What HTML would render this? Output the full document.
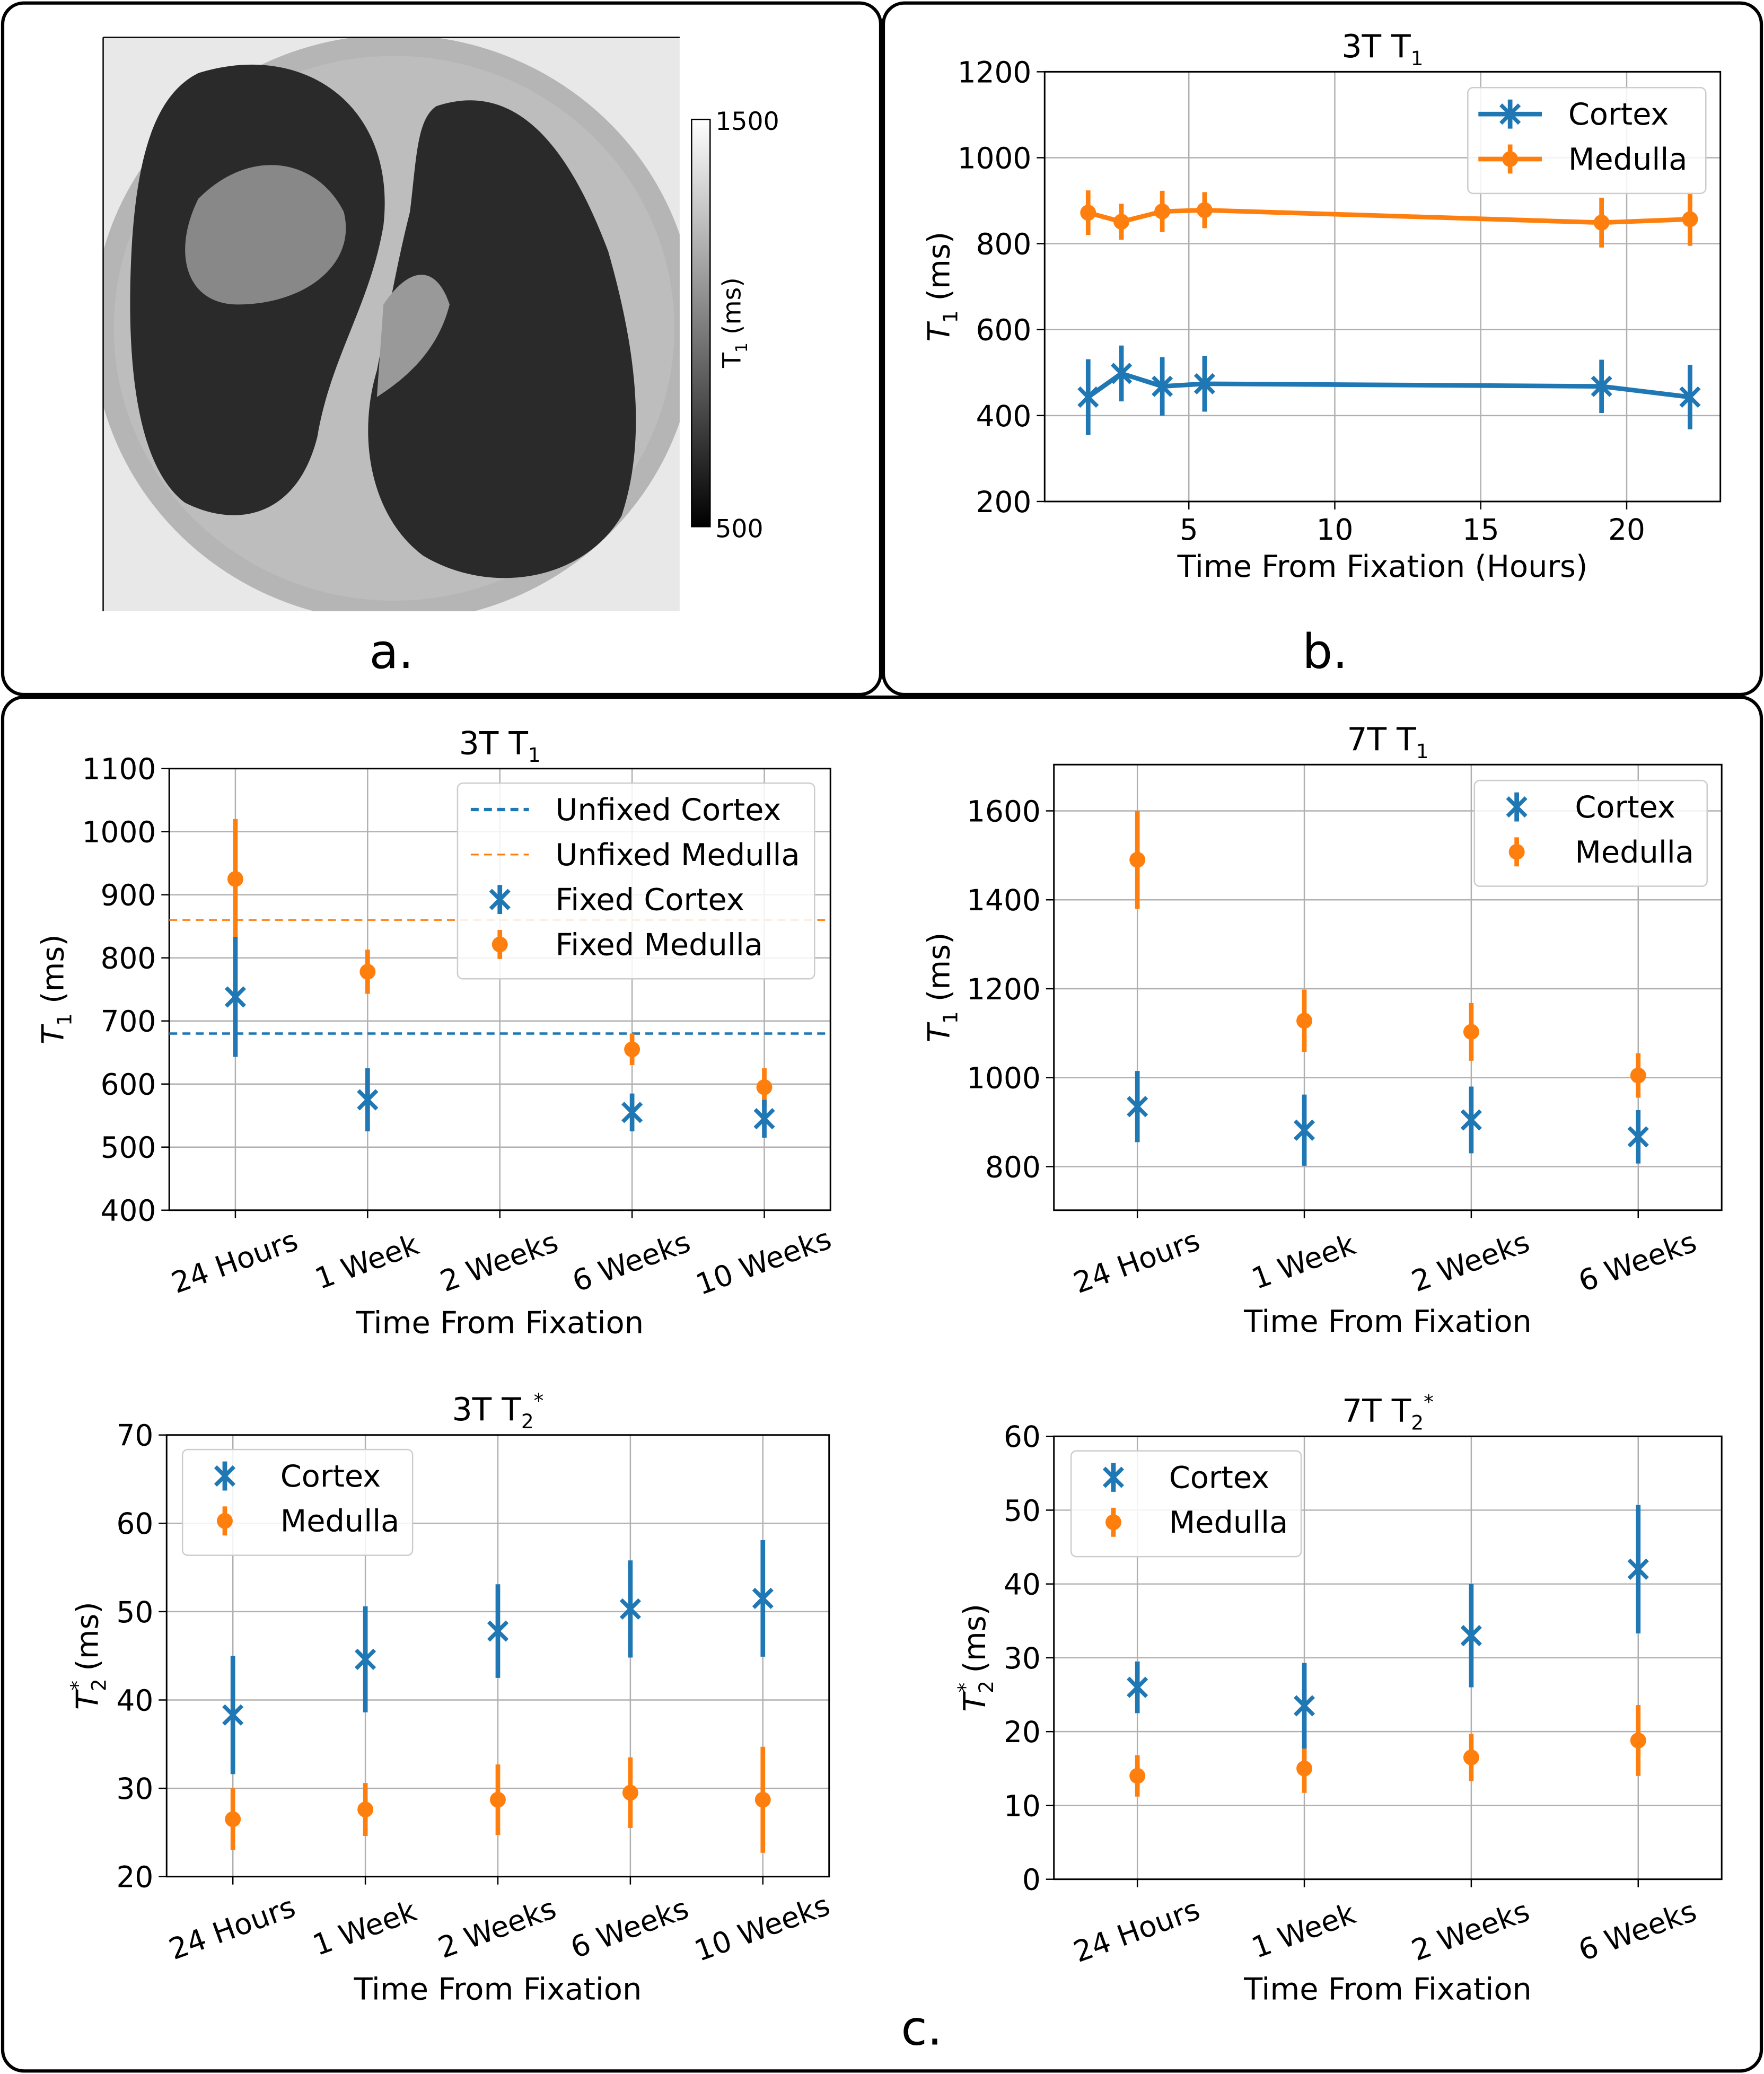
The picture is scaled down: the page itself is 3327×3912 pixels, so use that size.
<!DOCTYPE html>
<html><head><meta charset="utf-8"><style>
html,body{margin:0;padding:0;background:#fff}
svg{display:block}
text{font-family:"DejaVu Sans","Liberation Sans",sans-serif;fill:#000}
</style></head><body>
<svg id="fig" width="3327" height="3912" viewBox="0 0 1334 1568" xmlns="http://www.w3.org/2000/svg">
<defs>
<linearGradient id="cb" x1="0" y1="1" x2="0" y2="0"><stop offset="0" stop-color="#000"/><stop offset="1" stop-color="#fff"/></linearGradient>
<clipPath id="imgclip"><rect x="78" y="28" width="436" height="434"/></clipPath>
</defs>
<rect x="2" y="2" width="664" height="523" rx="16" fill="#fff" stroke="#000" stroke-width="2.5"/>
<rect x="668" y="2" width="664" height="523" rx="16" fill="#fff" stroke="#000" stroke-width="2.5"/>
<rect x="2" y="527" width="1330" height="1039" rx="16" fill="#fff" stroke="#000" stroke-width="2.5"/>
<g clip-path="url(#imgclip)">
<rect x="78" y="28" width="436" height="434" fill="#e8e8e8"/>
<ellipse cx="298" cy="248" rx="228" ry="222" fill="#b5b5b5"/>
<ellipse cx="298" cy="248" rx="212" ry="206" fill="#bdbdbd"/>
<path d="M150,55 C230,30 300,80 290,170 C280,230 250,270 240,330 C225,390 180,400 140,380 C100,350 95,260 100,180 C105,110 120,70 150,55Z" fill="#2a2a2a"/>
<path d="M150,150 C190,110 240,120 260,160 C270,200 230,230 180,230 C140,230 130,190 150,150Z" fill="#888"/>
<path d="M330,80 C390,60 430,110 460,190 C480,260 490,330 470,390 C440,440 370,450 320,420 C280,390 270,330 285,280 C295,230 300,200 310,160 C315,120 315,90 330,80Z" fill="#2a2a2a"/>
<path d="M290,230 C310,200 330,200 340,230 C330,270 300,290 285,300Z" fill="#999"/>
</g>
<line x1="78" y1="28" x2="78" y2="462" stroke="#000" stroke-width="1"/>
<line x1="78" y1="28" x2="514" y2="28" stroke="#000" stroke-width="1"/>
<rect x="523" y="90" width="14" height="308" fill="url(#cb)" stroke="#000" stroke-width="1"/>
<text x="541" y="98" font-size="19">1500</text>
<text x="541" y="406" font-size="19">500</text>
<text transform="translate(560,278) rotate(-90)" font-size="19">T<tspan font-size="12" dy="5">1</tspan><tspan dy="-5"> (ms)</tspan></text>
<text x="296" y="505" font-size="36" text-anchor="middle">a.</text>
<text x="1002" y="505" font-size="36" text-anchor="middle">b.</text>
<text x="697" y="1546" font-size="36" text-anchor="middle">c.</text>
<g id="charts"></g>
</svg>
<script>
// Panel b data
const bHours = [1.55, 2.69, 4.09, 5.54, 19.14, 22.17];
const bCortex = [443, 498, 468, 474, 468, 443];
const bCortexErr = [88, 65, 68, 65, 62, 75];
const bMedulla = [872, 851, 875, 878, 849, 857];
const bMedullaErr = [52, 42, 48, 42, 58, 62];
const bXTicks = [5, 10, 15, 20];
const bYTicks = [200, 400, 600, 800, 1000, 1200];
// Panel c 3T T1
const c1Cats = ['24 Hours', '1 Week', '2 Weeks', '6 Weeks', '10 Weeks'];
const c1Cortex = [738, 575, null, 555, 545];
const c1CortexErr = [95, 50, 0, 30, 30];
const c1Medulla = [925, 778, null, 655, 595];
const c1MedullaErr = [95, 35, 0, 25, 30];
const c1UnfixedCortex = 680;
const c1UnfixedMedulla = 860;
const c1YTicks = [400, 500, 600, 700, 800, 900, 1000, 1100];
// Panel c 7T T1
const c2Cats = ['24 Hours', '1 Week', '2 Weeks', '6 Weeks'];
const c2Cortex = [935, 882, 905, 867];
const c2CortexErr = [80, 80, 75, 60];
const c2Medulla = [1490, 1128, 1103, 1005];
const c2MedullaErr = [110, 70, 65, 50];
const c2YTicks = [800, 1000, 1200, 1400, 1600];
// Panel c 3T T2*
const c3Cats = ['24 Hours', '1 Week', '2 Weeks', '6 Weeks', '10 Weeks'];
const c3Cortex = [38.3, 44.6, 47.8, 50.3, 51.5];
const c3CortexErr = [6.7, 6, 5.3, 5.5, 6.6];
const c3Medulla = [26.5, 27.6, 28.7, 29.5, 28.7];
const c3MedullaErr = [3.5, 3, 4, 4, 6];
const c3YTicks = [20, 30, 40, 50, 60, 70];
// Panel c 7T T2*
const c4Cats = ['24 Hours', '1 Week', '2 Weeks', '6 Weeks'];
const c4Cortex = [26, 23.5, 33, 42];
const c4CortexErr = [3.5, 5.8, 7, 8.7];
const c4Medulla = [14, 15, 16.5, 18.8];
const c4MedullaErr = [2.8, 3.3, 3.2, 4.8];
const c4YTicks = [0, 10, 20, 30, 40, 50, 60];

const NS = 'http://www.w3.org/2000/svg';
const root = document.getElementById('charts');
const BLUE = '#1f77b4', ORANGE = '#ff7f0e';
function mk(tag, attrs, parent) {
  const e = document.createElementNS(NS, tag);
  for (const k in attrs) e.setAttribute(k, attrs[k]);
  (parent || root).appendChild(e);
  return e;
}
function txt(s, attrs, parent) { const t = mk('text', attrs, parent); t.innerHTML = s; return t; }

function xMarker(g, x, y, color) {
  const p = mk('path', {d:`M${x-7},${y-7}L${x+7},${y+7}M${x-7},${y+7}L${x+7},${y-7}`, stroke:color, 'stroke-width':3, fill:'none'}, g);
  
  
}
function oMarker(g, x, y, color) {
  const c = mk('circle', {cx:x, cy:y, r:6, fill:color}, g);
  
  
}
function errBar(g, x, y1, y2, color, name) {
  const l = mk('line', {x1:x, x2:x, y1:y1, y2:y2, stroke:color, 'stroke-width':3.5}, g);
  
  
}

function axes(c) {
  const g = mk('g', {});
  
  
  c.g = g;
  const ys = v => c.y1 - (v - c.ymin) / (c.ymax - c.ymin) * (c.y1 - c.y0);
  c.ys = ys;
  c.yTicks.forEach(v => {
    const y = ys(v);
    mk('line', {x1:c.x0, x2:c.x1, y1:y, y2:y, stroke:'#b0b0b0', 'stroke-width':1}, g);
    mk('line', {x1:c.x0-6, x2:c.x0, y1:y, y2:y, stroke:'#000', 'stroke-width':1}, g);
    const t = txt(String(v), {x:c.x0-10, y:y+8, 'font-size':22, 'text-anchor':'end'}, g);
    
    
  });
  c.xTickPos.forEach((x, i) => {
    mk('line', {x1:x, x2:x, y1:c.y0, y2:c.y1, stroke:'#b0b0b0', 'stroke-width':1}, g);
    mk('line', {x1:x, x2:x, y1:c.y1, y2:c.y1+6, stroke:'#000', 'stroke-width':1}, g);
    let t;
    if (c.rot) t = txt(c.xTickLabels[i], {transform:`translate(${x+2},${c.y1+46}) rotate(-20)`, 'font-size':22, 'text-anchor':'middle'}, g);
    else t = txt(c.xTickLabels[i], {x:x, y:c.y1+29, 'font-size':22, 'text-anchor':'middle'}, g);
    
    
  });
  const fr = mk('rect', {x:c.x0, y:c.y0, width:c.x1-c.x0, height:c.y1-c.y0, fill:'none', stroke:'#000', 'stroke-width':1.2}, g);
  
  
  const ti = txt(c.title, {x:(c.x0+c.x1)/2, y:c.y0-11, 'font-size':24, 'text-anchor':'middle'}, g);
  
  
  const xl = txt(c.xlabel, {x:(c.x0+c.x1)/2, y:c.xlabelY, 'font-size':23, 'text-anchor':'middle'}, g);
  
  
  const yl = txt(c.ylabel, {transform:`translate(${c.ylabelX},${(c.y0+c.y1)/2}) rotate(-90)`, 'font-size':23, 'text-anchor':'middle'}, g);
  
  
  return g;
}

function legend(g, x, y, w, entries) {
  const lg = mk('g', {}, g);
  
  
  mk('rect', {x:x, y:y, width:w, height:entries.length*34+12, rx:4, fill:'#fff', 'fill-opacity':0.85, stroke:'#ccc'}, lg);
  entries.forEach((e, i) => {
    const cy = y + 20 + i*34;
    const ex = x + 32;
    const eg = mk('g', {}, lg);
    
    
    if (e.type === 'dash') mk('line', {x1:ex-22, x2:ex+22, y1:cy, y2:cy, stroke:e.color, 'stroke-width':e.w||2, 'stroke-dasharray':'6,4'}, eg);
    if (e.type === 'lineX' || e.type === 'lineO') mk('line', {x1:ex-24, x2:ex+24, y1:cy, y2:cy, stroke:e.color, 'stroke-width':3.5}, eg);
    if (e.type === 'lineX' || e.type === 'x' || e.type === 'lineO' || e.type === 'o') errBar(eg, ex, cy-11, cy+11, e.color, 'legend-errorbar');
    if (e.type === 'lineX' || e.type === 'x') xMarker(eg, ex, cy, e.color);
    if (e.type === 'lineO' || e.type === 'o') oMarker(eg, ex, cy, e.color);
    const t = txt(e.label, {x:x+e.tx, y:cy+8, 'font-size':23}, eg);
    
    
  });
}

function catChart(c, cats, cort, cortE, med, medE) {
  const n = cats.length;
  const xs = i => c.x0 + (i + 0.5) / n * (c.x1 - c.x0);
  c.xTickPos = cats.map((_, i) => xs(i));
  c.xTickLabels = cats;
  c.rot = true;
  const g = axes(c);
  if (c.unfixed) {
    const y1 = c.ys(c.unfixed[0]), y2 = c.ys(c.unfixed[1]);
    const l1 = mk('line', {x1:c.x0, x2:c.x1, y1:y1, y2:y1, stroke:BLUE, 'stroke-width':1.8, 'stroke-dasharray':'6,4'}, g);
    
    
    const l2 = mk('line', {x1:c.x0, x2:c.x1, y1:y2, y2:y2, stroke:ORANGE, 'stroke-width':1.2, 'stroke-dasharray':'6,4'}, g);
    
    
  }
  med.forEach((v, i) => {
    if (v == null) return;
    errBar(g, xs(i), c.ys(v - medE[i]), c.ys(v + medE[i]), ORANGE, 'medulla-errorbar');
    oMarker(g, xs(i), c.ys(v), ORANGE);
  });
  cort.forEach((v, i) => {
    if (v == null) return;
    errBar(g, xs(i), c.ys(v - cortE[i]), c.ys(v + cortE[i]), BLUE, 'cortex-errorbar');
    xMarker(g, xs(i), c.ys(v), BLUE);
  });
  return g;
}

// Panel b
(function(){
  const c = {name:'chart-3t-t1-hours', x0:790, x1:1301, y0:54, y1:379, ymin:200, ymax:1200, yTicks:bYTicks,
    title:'3T T<tspan font-size="15" dy="6">1</tspan>', xlabel:'Time From Fixation (Hours)', xlabelY:436,
    ylabel:'<tspan font-style="italic">T</tspan><tspan font-size="15" dy="6">1</tspan><tspan dy="-6"> (ms)</tspan>', ylabelX:718};
  const xmin = 0.06, xmax = 23.21;
  const xs = v => c.x0 + (v - xmin) / (xmax - xmin) * (c.x1 - c.x0);
  c.xTickPos = bXTicks.map(xs);
  c.xTickLabels = bXTicks.map(String);
  const g = axes(c);
  [[bMedulla, bMedullaErr, ORANGE, 'medulla'], [bCortex, bCortexErr, BLUE, 'cortex']].forEach(([d, e, col, nm]) => {
    const pl = mk('polyline', {points:d.map((v, i) => xs(bHours[i]) + ',' + c.ys(v)).join(' '), fill:'none', stroke:col, 'stroke-width':3.5}, g);
    
    
    d.forEach((v, i) => {
      errBar(g, xs(bHours[i]), c.ys(v - e[i]), c.ys(v + e[i]), col, nm + '-errorbar');
      if (nm === 'cortex') xMarker(g, xs(bHours[i]), c.ys(v), col); else oMarker(g, xs(bHours[i]), c.ys(v), col);
    });
  });
  legend(g, 1110, 66, 180, [{type:'lineX', color:BLUE, label:'Cortex', tx:76}, {type:'lineO', color:ORANGE, label:'Medulla', tx:76}]);
})();

(function(){
  const c = {name:'chart-3t-t1', x0:128, x1:628, y0:581, y1:915, ymin:400, ymax:1100, yTicks:c1YTicks,
    title:'3T T<tspan font-size="15" dy="6">1</tspan>', xlabel:'Time From Fixation', xlabelY:1008,
    ylabel:'<tspan font-style="italic">T</tspan><tspan font-size="15" dy="6">1</tspan><tspan dy="-6"> (ms)</tspan>', ylabelX:48,
    unfixed:[c1UnfixedCortex, c1UnfixedMedulla]};
  const g = catChart(c, c1Cats, c1Cortex, c1CortexErr, c1Medulla, c1MedullaErr);
  legend(g, 346, 592, 270, [{type:'dash', color:BLUE, label:'Unfixed Cortex', tx:74, w:2.5}, {type:'dash', color:ORANGE, label:'Unfixed Medulla', tx:74, w:1.3},
    {type:'x', color:BLUE, label:'Fixed Cortex', tx:74}, {type:'o', color:ORANGE, label:'Fixed Medulla', tx:74}]);
})();

(function(){
  const c = {name:'chart-7t-t1', x0:797, x1:1302, y0:578, y1:915, ymin:702, ymax:1704, yTicks:c2YTicks,
    title:'7T T<tspan font-size="15" dy="6">1</tspan>', xlabel:'Time From Fixation', xlabelY:1007,
    ylabel:'<tspan font-style="italic">T</tspan><tspan font-size="15" dy="6">1</tspan><tspan dy="-6"> (ms)</tspan>', ylabelX:718};
  const g = catChart(c, c2Cats, c2Cortex, c2CortexErr, c2Medulla, c2MedullaErr);
  legend(g, 1115, 590, 176, [{type:'x', color:BLUE, label:'Cortex', tx:76}, {type:'o', color:ORANGE, label:'Medulla', tx:76}]);
})();

(function(){
  const c = {name:'chart-3t-t2star', x0:126, x1:627, y0:1085, y1:1419, ymin:20, ymax:70, yTicks:c3YTicks,
    title:'3T T<tspan font-size="15" dy="6">2</tspan><tspan font-size="15" dy="-16">*</tspan>', xlabel:'Time From Fixation', xlabelY:1512,
    ylabel:'<tspan font-style="italic">T</tspan><tspan font-size="15" dy="6">2</tspan><tspan font-size="15" dy="-16" dx="-9">*</tspan><tspan dy="10"> (ms)</tspan>', ylabelX:74};
  const g = catChart(c, c3Cats, c3Cortex, c3CortexErr, c3Medulla, c3MedullaErr);
  legend(g, 138, 1096, 174, [{type:'x', color:BLUE, label:'Cortex', tx:74}, {type:'o', color:ORANGE, label:'Medulla', tx:74}]);
})();

(function(){
  const c = {name:'chart-7t-t2star', x0:797, x1:1302, y0:1086, y1:1421, ymin:0, ymax:60, yTicks:c4YTicks,
    title:'7T T<tspan font-size="15" dy="6">2</tspan><tspan font-size="15" dy="-16">*</tspan>', xlabel:'Time From Fixation', xlabelY:1512,
    ylabel:'<tspan font-style="italic">T</tspan><tspan font-size="15" dy="6">2</tspan><tspan font-size="15" dy="-16" dx="-9">*</tspan><tspan dy="10"> (ms)</tspan>', ylabelX:745};
  const g = catChart(c, c4Cats, c4Cortex, c4CortexErr, c4Medulla, c4MedullaErr);
  legend(g, 810, 1097, 174, [{type:'x', color:BLUE, label:'Cortex', tx:74}, {type:'o', color:ORANGE, label:'Medulla', tx:74}]);
})();
</script>
</body></html>
